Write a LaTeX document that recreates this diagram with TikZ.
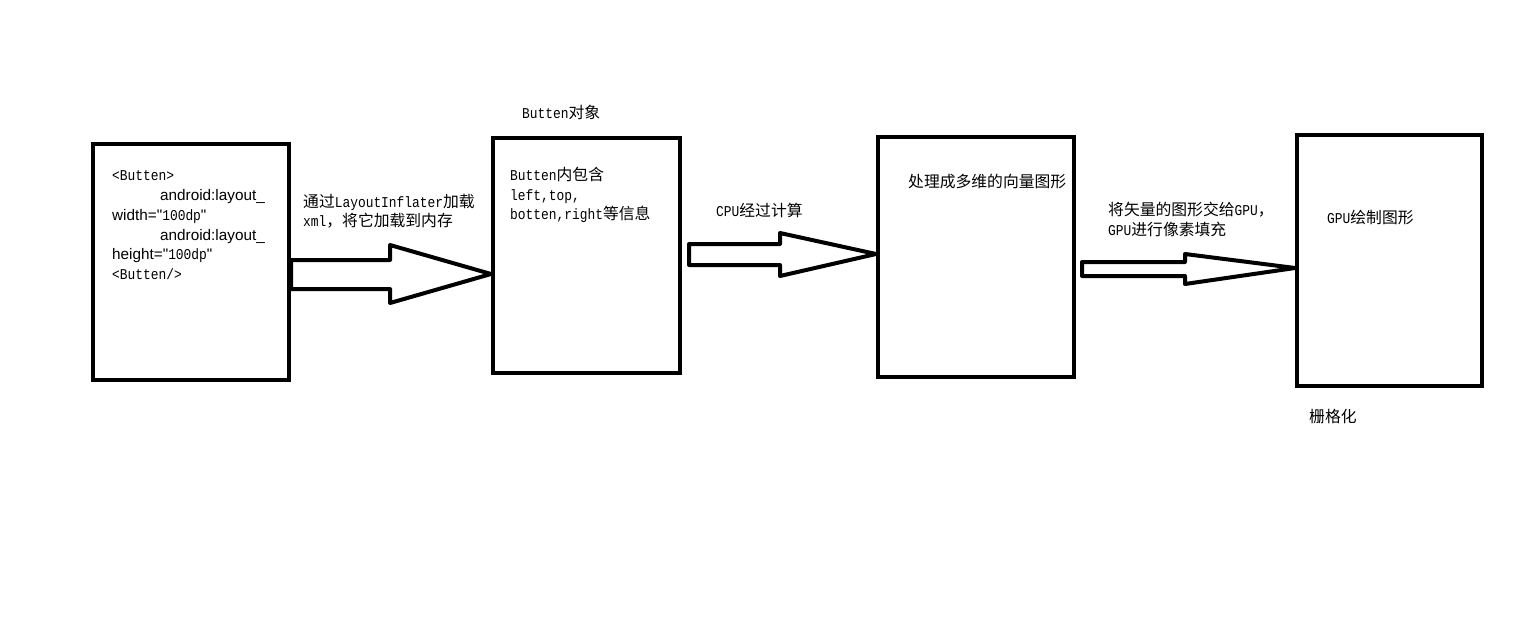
\documentclass[tikz,border=0pt]{standalone}
\usepackage{fontspec}
\newfontfamily\cjk{Noto Sans CJK SC}
\newfontfamily\mono[FakeStretch=0.86]{Liberation Mono}
\newfontfamily\arial{Liberation Sans}
\newcommand{\C}[1]{{\cjk\fontsize{15.8}{18}\selectfont #1}}
\newcommand{\M}[1]{{\mono\fontsize{15}{18}\selectfont #1}}
\newcommand{\A}[1]{{\arial\fontsize{15.3}{18}\selectfont #1}}
\begin{document}
\begin{tikzpicture}[x=1pt,y=-1pt,
  box/.style={draw,line width=4pt,inner sep=0pt,line join=miter},
  blockarrow/.style={draw,line width=4pt,line join=round,fill=white},
  txt/.style={inner sep=0pt,anchor=base west}]
\fill[white] (0,0) rectangle (1521,637);
\useasboundingbox (0,0) rectangle (1521,637);
% boxes
\node[box,minimum width=196pt,minimum height=236pt] (b1) at (191,262) {};
\node[box,minimum width=187pt,minimum height=235pt] (b2) at (586.5,255.5) {};
\node[box,minimum width=196pt,minimum height=240pt] (b3) at (976,257) {};
\node[box,minimum width=185pt,minimum height=251pt] (b4) at (1389.5,260.5) {};
% block arrows
\draw[blockarrow] (b1.east |- 0,260) -- (390,260) -- (390,245) -- (b2.west |- 0,274) -- (390,303) -- (390,289) -- (b1.east |- 0,289) -- cycle;
\draw[blockarrow] (689,244) -- (780,244) -- (780,233) -- (b3.west |- 0,254) -- (780,276) -- (780,265) -- (689,265) -- cycle;
\draw[blockarrow] (1082,262) -- (1185,262) -- (1185,254) -- (b4.west |- 0,268) -- (1185,284) -- (1185,276) -- (1082,276) -- cycle;
% box 1 text
\node[txt] (t1) at (112,180) {\M{<Butten>}};
\node[txt] (t2) at (160,200) {\A{android:layout\_}};
\node[txt] (t3) at (112,220) {\A{width="}\M{100dp}\A{"}};
\node[txt] (t4) at (160,240) {\A{android:layout\_}};
\node[txt] (t5) at (112,259) {\A{height="}\M{100dp}\A{"}};
\node[txt] (t6) at (112,279) {\M{<Butten/>}};
% arrow 1 label
\node[txt] (l1a) at (303,207) {\C{通过}\M{LayoutInflater}\C{加载}};
\node[txt] (l1b) at (303,226) {\M{xml}\C{，将它加载到内存}};
% box 2
\node[txt] (o2) at (522,118) {\M{Butten}\C{对象}};
\node[txt] (u1) at (510,180) {\M{Butten}\C{内包含}};
\node[txt] (u2) at (510,200) {\M{left,top,}};
\node[txt] (u3) at (510,219) {\M{botten,right}\C{等信息}};
% arrow 2 label
\node[txt] (l2) at (716,216) {\M{CPU}\C{经过计算}};
% box 3
\node[txt] (v1) at (908,187) {\C{处理成多维的向量图形}};
% arrow 3 label
\node[txt] (l3a) at (1108,215) {\C{将矢量的图形交给}\M{GPU}\C{，}};
\node[txt] (l3b) at (1108,235) {\M{GPU}\C{进行像素填充}};
% box 4
\node[txt] (w1) at (1327,223) {\M{GPU}\C{绘制图形}};
\node[txt] (w2) at (1309,422) {\C{栅格化}};
\end{tikzpicture}
\end{document}
